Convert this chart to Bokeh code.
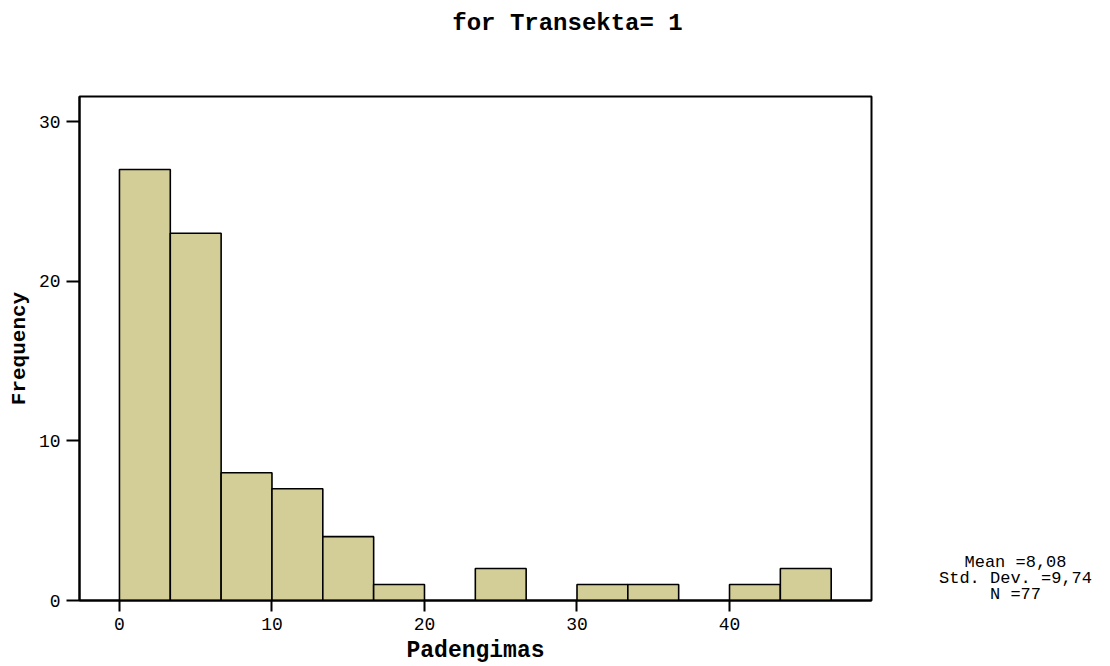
from bokeh.plotting import figure
from bokeh.models import Range1d, FixedTicker
from bokeh.layouts import column, row
from bokeh.core.properties import value
from bokeh.embed import file_html
from bokeh.resources import INLINE

# ---- data ----
bin_width = 10 / 3
bin_index = [0, 1, 2, 3, 4, 5, 6, 7, 8, 9, 10, 11, 12, 13]
counts = [27, 23, 8, 7, 4, 1, 0, 2, 0, 1, 1, 0, 1, 2]
x_ticks = [0, 10, 20, 30, 40]
y_ticks = [0, 10, 20, 30]
stats_lines = ["Mean =8,08", "Std. Dev. =9,74", "N =77"]
title_text = "for Transekta= 1"
x_label = "Padengimas"
y_label = "Frequency"

FONT = "Liberation Mono"
FILL = "#D3CE97"

left = [i * bin_width for i, c in zip(bin_index, counts) if c > 0]
right = [(i + 1) * bin_width for i, c in zip(bin_index, counts) if c > 0]
top = [c for c in counts if c > 0]

TOTAL_W, TOTAL_H = 1110, 666
TITLE_H = 44
MAIN_W = 900
FRAME_TOP, FRAME_BOTTOM = 96, 600


def blank(w, h, xr, yr):
    f = figure(width=w, height=h, output_backend="svg", toolbar_location=None,
               x_range=Range1d(*xr), y_range=Range1d(*yr),
               x_axis_type=None, y_axis_type=None, min_border=0)
    f.outline_line_color = None
    f.xgrid.visible = False
    f.ygrid.visible = False
    return f


# ---- title strip ----
tf = blank(TOTAL_W, TITLE_H, (0, TOTAL_W), (TITLE_H, 0))
tf.text(x=[567], y=[23], text=[title_text], text_align="center",
        text_baseline="middle", text_font=value(FONT),
        text_font_style="bold", text_font_size="24px", text_color="black")

# ---- main histogram ----
p = figure(width=MAIN_W, height=TOTAL_H - TITLE_H, output_backend="svg",
           toolbar_location=None,
           x_range=Range1d(-2.62, 49.31), y_range=Range1d(0, 31.57),
           min_border_left=79, min_border_right=MAIN_W - 871,
           min_border_top=FRAME_TOP - TITLE_H,
           min_border_bottom=TOTAL_H - FRAME_BOTTOM)

p.quad(left=left, right=right, bottom=0, top=top, fill_color=FILL,
       line_color="black", line_width=1.6)

p.xgrid.visible = False
p.ygrid.visible = False
p.outline_line_color = "black"
p.outline_line_width = 2

for ax, ticks, tout in ((p.xaxis[0], x_ticks, 11), (p.yaxis[0], y_ticks, 13)):
    ax.ticker = FixedTicker(ticks=ticks)
    ax.axis_line_color = "black"
    ax.axis_line_width = 2
    ax.major_tick_line_color = "black"
    ax.major_tick_line_width = 2
    ax.major_tick_out = tout
    ax.major_tick_in = 0
    ax.minor_tick_line_color = None
    ax.major_label_text_font = FONT
    ax.major_label_text_font_size = "18px"
    ax.major_label_text_color = "black"
    ax.axis_label_text_font = FONT
    ax.axis_label_text_font_style = "bold"
    ax.axis_label_text_color = "black"

p.xaxis.axis_label = x_label
p.xaxis.axis_label_text_font_size = "23px"
p.xaxis.major_label_standoff = 6
p.xaxis.axis_label_standoff = 5
p.yaxis.axis_label = y_label
p.yaxis.axis_label_text_font_size = "21px"
p.yaxis.major_label_standoff = 6
p.yaxis.axis_label_standoff = 5

# ---- stats box on the right (frame aligned with the main frame) ----
sf = blank(TOTAL_W - MAIN_W, TOTAL_H - TITLE_H, (MAIN_W, TOTAL_W),
           (FRAME_BOTTOM, FRAME_TOP))
sf.text(x=[1015, 1015, 1015], y=[562, 578, 594], text=stats_lines,
        text_align="center", text_baseline="middle", text_font=value(FONT),
        text_font_size="17px", text_color="black")

layout = column(tf, row(p, sf, spacing=0), spacing=0)
open("out.html", "w").write(file_html(layout, INLINE))
